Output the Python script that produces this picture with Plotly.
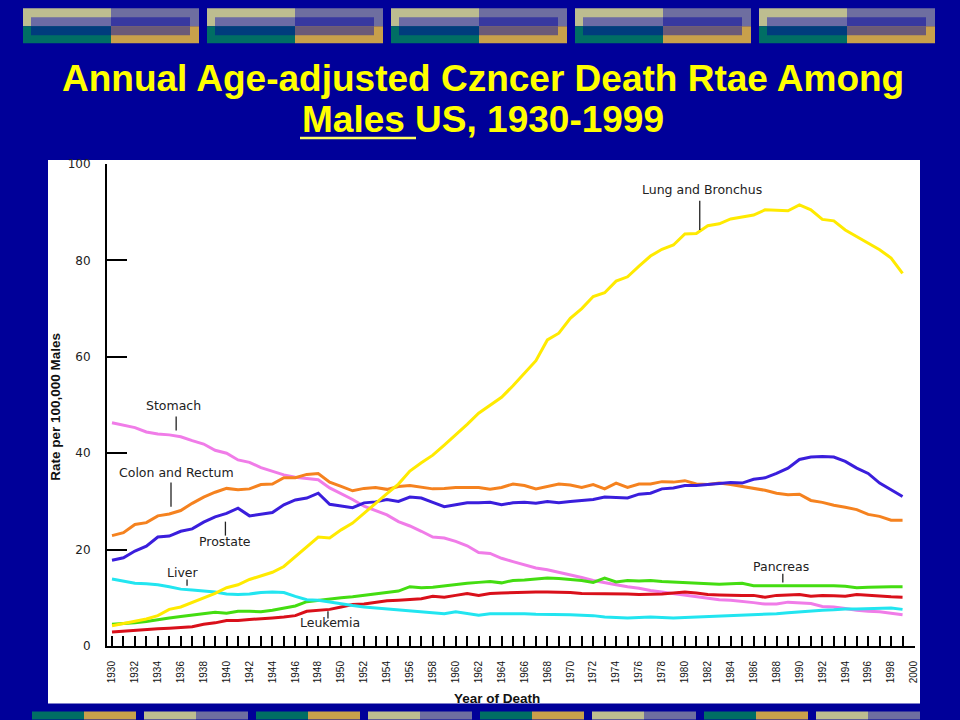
import plotly.graph_objects as go

# ---------------- data ----------------
years = list(range(1930, 2000))

stomach = [46.3, 45.8, 45.3, 44.4, 44.0, 43.8, 43.4, 42.6, 41.9, 40.6,
           40.0, 38.6, 38.1, 37.0, 36.2, 35.5, 35.0, 34.8, 34.5, 32.8,
           31.6, 30.4, 29.0, 28.1, 27.2, 25.8, 24.9, 23.8, 22.6, 22.4,
           21.7, 20.8, 19.4, 19.2, 18.2, 17.5, 16.9, 16.2, 15.8, 15.3,
           14.7, 14.2, 13.6, 13.1, 12.7, 12.3, 12.0, 11.5, 11.2, 10.8,
           10.6, 10.3, 10.0, 9.6, 9.5, 9.3, 9.0, 8.7, 8.7, 9.1,
           8.9, 8.8, 8.2, 8.1, 7.8, 7.4, 7.2, 7.1, 6.8, 6.5]

colon_rectum = [22.9, 23.5, 25.2, 25.6, 27.0, 27.4, 28.1, 29.6, 30.9, 31.9,
                32.7, 32.4, 32.6, 33.5, 33.6, 34.9, 34.9, 35.6, 35.8, 34.0,
                33.1, 32.2, 32.7, 32.9, 32.5, 33.1, 33.3, 33.0, 32.6, 32.7,
                32.9, 32.9, 32.9, 32.5, 32.9, 33.6, 33.3, 32.6, 33.1, 33.6,
                33.4, 32.9, 33.5, 32.6, 33.8, 32.9, 33.6, 33.6, 34.1, 34.0,
                34.3, 33.6, 33.5, 33.8, 33.5, 33.1, 32.6, 32.3, 31.7, 31.4,
                31.5, 30.2, 29.8, 29.2, 28.8, 28.3, 27.3, 26.9, 26.1, 26.1]

prostate = [17.8, 18.3, 19.7, 20.7, 22.6, 22.8, 23.8, 24.3, 25.7, 26.8,
            27.5, 28.6, 27.0, 27.3, 27.7, 29.3, 30.3, 30.7, 31.7, 29.4,
            29.0, 28.7, 29.7, 29.9, 30.4, 30.0, 30.9, 30.7, 29.8, 28.9,
            29.3, 29.7, 29.7, 29.8, 29.3, 29.7, 29.8, 29.6, 30.0, 29.7,
            30.0, 30.2, 30.4, 30.9, 30.8, 30.7, 31.5, 31.7, 32.6, 32.8,
            33.3, 33.3, 33.5, 33.7, 33.9, 33.8, 34.6, 34.9, 35.8, 36.9,
            38.7, 39.2, 39.3, 39.2, 38.3, 36.9, 35.8, 33.8, 32.4, 31.0]

lung_bronchus = [4.2, 4.7, 5.1, 5.6, 6.3, 7.6, 8.1, 9.0, 10.0, 10.9,
                 12.1, 12.7, 13.8, 14.6, 15.3, 16.5, 18.6, 20.6, 22.6, 22.4,
                 24.1, 25.5, 27.6, 29.7, 31.6, 33.6, 36.3, 38.0, 39.6, 41.7,
                 43.8, 46.0, 48.3, 50.0, 51.6, 54.0, 56.5, 59.2, 63.5, 64.9,
                 68.0, 70.0, 72.5, 73.3, 75.7, 76.6, 78.8, 80.9, 82.3, 83.2,
                 85.5, 85.6, 87.2, 87.6, 88.6, 89.0, 89.4, 90.5, 90.4, 90.3,
                 91.5, 90.5, 88.5, 88.2, 86.3, 84.9, 83.6, 82.2, 80.5, 77.3]

liver = [13.9, 13.4, 13.0, 12.9, 12.7, 12.3, 11.8, 11.6, 11.4, 11.2,
         10.8, 10.7, 10.8, 11.1, 11.2, 11.1, 10.3, 9.6, 9.5, 9.1,
         8.7, 8.4, 8.1, 7.9, 7.7, 7.5, 7.3, 7.1, 6.9, 6.7,
         7.1, 6.8, 6.4, 6.7, 6.7, 6.8, 6.7, 6.6, 6.6, 6.5,
         6.5, 6.4, 6.3, 6.0, 5.9, 5.8, 5.9, 6.0, 5.9, 5.8,
         5.9, 6.0, 6.1, 6.1, 6.2, 6.3, 6.4, 6.5, 6.7, 6.9,
         7.1, 7.2, 7.4, 7.5, 7.7, 7.7, 7.8, 7.9, 7.9, 7.6]

pancreas = [4.5, 4.6, 4.8, 5.1, 5.5, 5.8, 6.1, 6.4, 6.7, 7.0,
            6.8, 7.2, 7.2, 7.1, 7.4, 7.9, 8.3, 9.2, 9.5, 9.8,
            10.0, 10.2, 10.5, 10.7, 11.1, 11.4, 12.3, 12.1, 12.2, 12.5,
            12.7, 13.0, 13.2, 13.4, 13.1, 13.6, 13.7, 13.9, 14.1, 14.0,
            13.8, 13.6, 13.2, 14.1, 13.3, 13.6, 13.5, 13.6, 13.4, 13.3,
            13.1, 13.1, 13.0, 12.8, 12.9, 13.0, 12.5, 12.5, 12.5, 12.5,
            12.6, 12.6, 12.5, 12.5, 12.4, 12.1, 12.2, 12.3, 12.3, 12.3]

leukemia = [2.9, 3.1, 3.3, 3.4, 3.6, 3.7, 3.8, 4.0, 4.5, 4.8,
            5.3, 5.3, 5.5, 5.6, 5.8, 6.0, 6.3, 7.2, 7.4, 7.6,
            8.1, 8.6, 8.7, 9.1, 9.4, 9.5, 9.7, 9.8, 10.3, 10.1,
            10.5, 10.9, 10.5, 10.9, 11.0, 11.1, 11.2, 11.2, 11.2, 11.2,
            11.1, 10.9, 10.9, 10.9, 10.8, 10.8, 10.7, 10.7, 10.8, 11.0,
            11.2, 11.0, 10.7, 10.6, 10.5, 10.5, 10.5, 10.1, 10.5, 10.6,
            10.7, 10.3, 10.5, 10.4, 10.3, 10.7, 10.5, 10.3, 10.2, 10.1]

x_tick_years = list(range(1930, 2001, 2))
y_tick_values = [0, 20, 40, 60, 80, 100]

title_line1 = "Annual Age-adjusted Czncer Death Rtae Among"
title_line2 = "Males US, 1930-1999"
y_title = "Rate per 100,000 Males"
x_title = "Year of Death"

# label text, label anchor (year, rate), leader line (year, rate_top, rate_bottom)
series_labels = [
    ("Lung and Bronchus", 1981.5, 94.8, 1981.3, 92.4, 86.3),
    ("Stomach", 1935.4, 49.8, 1935.6, 47.6, 44.7),
    ("Colon and Rectum", 1935.6, 36.0, 1935.15, 33.9, 28.9),
    ("Prostate", 1939.9, 21.7, 1939.9, 25.8, 22.9),
    ("Liver", 1936.2, 15.2, 1936.55, 13.8, 12.5),
    ("Leukemia", 1949.0, 4.9, 1948.85, 7.2, 5.7),
    ("Pancreas", 1988.4, 16.5, 1988.55, 15.0, 13.2),
]

# ---------------- figure ----------------
W, H = 960, 720
ML, MR, MT, MB = 107, 45, 164, 73.5
PW, PH = W - ML - MR, H - MT - MB
BG = "#000099"


def px_x(px):
    return (px - ML) / PW


def px_y(py):
    return (H - MB - py) / PH


fig = go.Figure()

series = [
    (stomach, "#F07CE8"),
    (colon_rectum, "#F5821F"),
    (prostate, "#3A1EDC"),
    (pancreas, "#44DD11"),
    (leukemia, "#D9101A"),
    (liver, "#22E5F0"),
    (lung_bronchus, "#FFEA00"),
]
for vals, col in series:
    fig.add_trace(go.Scatter(x=years, y=vals, mode="lines",
                             line=dict(color=col, width=3),
                             showlegend=False, hoverinfo="skip"))

shapes = []
# white chart panel
shapes.append(dict(type="rect", xref="paper", yref="paper",
                   x0=px_x(48), x1=px_x(920), y0=px_y(704), y1=px_y(160),
                   fillcolor="white", line=dict(width=0), layer="below"))

# top banner blocks
beige, slate, teal, gold = "#BDBD90", "#6E6EA0", "#006E64", "#C8A04B"
in_tl, in_tr, in_bl, in_br = "#6B6BA5", "#3838A0", "#003C7D", "#6B5A78"
for i in range(5):
    x0 = 23 + 184 * i
    xm = x0 + 88
    x1 = x0 + 176
    for (a, b, c, d, col) in [(x0, xm, 8, 26, beige), (xm, x1, 8, 26, slate),
                              (x0, xm, 26, 43, teal), (xm, x1, 26, 43, gold),
                              (x0 + 8, xm, 17, 26, in_tl), (xm, x1 - 9, 17, 26, in_tr),
                              (x0 + 8, xm, 26, 35, in_bl), (xm, x1 - 9, 26, 35, in_br)]:
        shapes.append(dict(type="rect", xref="paper", yref="paper",
                           x0=px_x(a), x1=px_x(b), y0=px_y(d), y1=px_y(c),
                           fillcolor=col, line=dict(width=0), layer="below"))

# bottom strip
for k in range(8):
    x0 = 32 + 112 * k
    pair = (teal, gold) if k % 2 == 0 else (beige, slate)
    for j, col in enumerate(pair):
        shapes.append(dict(type="rect", xref="paper", yref="paper",
                           x0=px_x(x0 + 52 * j), x1=px_x(x0 + 52 * (j + 1)),
                           y0=px_y(720), y1=px_y(712),
                           fillcolor=col, line=dict(width=0), layer="below"))

# title underline
shapes.append(dict(type="line", xref="paper", yref="paper",
                   x0=px_x(300), x1=px_x(416), y0=px_y(138), y1=px_y(138),
                   line=dict(color="#FFFF66", width=2.5)))

annotations = []
for text, lx, ly, lnx, y_top, y_bot in series_labels:
    annotations.append(dict(x=lx, y=ly, xref="x", yref="y", text=text,
                            showarrow=False,
                            font=dict(family="DejaVu Sans", size=12.5, color="#222222")))
    shapes.append(dict(type="line", xref="x", yref="y", x0=lnx, x1=lnx,
                       y0=y_bot, y1=y_top, line=dict(color="#222222", width=1.3)))

title_font = dict(family="Liberation Sans, Arial", size=37, color="#FFFF00")
annotations.append(dict(xref="paper", yref="paper", x=px_x(483), y=px_y(78),
                        text="<b>" + title_line1 + "</b>", showarrow=False,
                        xanchor="center", yanchor="middle", font=title_font))
annotations.append(dict(xref="paper", yref="paper", x=px_x(483), y=px_y(119),
                        text="<b>" + title_line2 + "</b>", showarrow=False,
                        xanchor="center", yanchor="middle", font=title_font))
annotations.append(dict(xref="paper", yref="paper", x=px_x(56), y=px_y(407),
                        text="<b>" + y_title + "</b>", showarrow=False, textangle=-90,
                        xanchor="center", yanchor="middle",
                        font=dict(family="Liberation Sans Narrow, Arial Narrow, Liberation Sans",
                                  size=13.5, color="#111111")))
annotations.append(dict(xref="paper", yref="paper", x=px_x(497), y=px_y(699),
                        text="<b>" + x_title + "</b>", showarrow=False,
                        xanchor="center", yanchor="middle",
                        font=dict(family="Liberation Sans, Arial", size=13.5, color="#111111")))

fig.update_layout(
    width=W, height=H, autosize=False,
    margin=dict(l=ML, r=MR, t=MT, b=MB, pad=0),
    paper_bgcolor=BG, plot_bgcolor="white",
    shapes=shapes, annotations=annotations,
    showlegend=False,
)

fig.update_xaxes(
    range=[1929.564, 2000.087], showgrid=False, zeroline=False,
    showline=True, linecolor="black", linewidth=2,
    tickmode="array", tickvals=x_tick_years, ticktext=[str(v) for v in x_tick_years],
    ticks="inside", ticklen=10, tickwidth=1.6, tickcolor="black",
    tickangle=-90, ticklabelstandoff=9,
    tickfont=dict(family="Liberation Sans Narrow, Arial Narrow, Liberation Sans", size=10, color="#111111"),
    minor=dict(dtick=1, tick0=1930, ticks="inside", ticklen=10, tickwidth=1.6, tickcolor="black"),
)
fig.update_yaxes(
    range=[0, 100], showgrid=False, zeroline=False,
    showline=True, linecolor="black", linewidth=2,
    tickmode="array", tickvals=y_tick_values,
    ticks="inside", ticklen=20, tickwidth=2, tickcolor="black",
    ticklabelstandoff=12,
    tickfont=dict(family="DejaVu Sans", size=12, color="#222222"),
)

fig.write_html("out.html", config={"displayModeBar": False},
               post_script="document.body.style.margin='0';document.body.style.overflow='hidden';")
